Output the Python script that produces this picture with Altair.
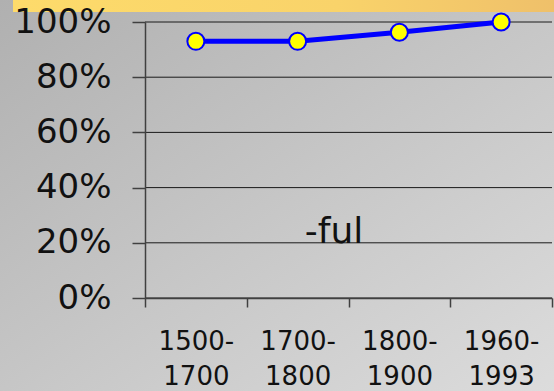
import altair as alt
import pandas as pd

# Share of words in the period, by century span
periods = ["1500-1700", "1700-1800", "1800-1900", "1960-1993"]
shares = [0.93, 0.93, 0.963, 1.0]

grid_values = [0.0, 0.2, 0.4, 0.6, 0.8, 1.0]
annotation = "-ful"
annotation_level = 0.2

W, H = 407, 276
PAD = {"left": 145, "top": 22, "right": 2, "bottom": 93}

series = pd.DataFrame({"period": periods, "share": shares})
grid_df = pd.DataFrame({"share": grid_values})
note_df = pd.DataFrame({"share": [annotation_level], "text": [annotation]})
one = pd.DataFrame({"k": [0]})

x_scale = alt.Scale(domain=periods, paddingInner=0, paddingOuter=0)
y_scale = alt.Scale(domain=[0, 1], nice=False)

# full-canvas grey gradient backdrop
backdrop = alt.Chart(one).mark_rect(
    clip=False,
    fill=alt.Gradient(
        gradient="linear", x1=0, y1=0, x2=1, y2=1,
        stops=[alt.GradientStop(color="#b0b0b0", offset=0),
               alt.GradientStop(color="#dcdcdc", offset=1)],
    ),
).encode(
    x=alt.value(-PAD["left"]), x2=alt.value(W + PAD["right"]),
    y=alt.value(-PAD["top"]), y2=alt.value(H + PAD["bottom"]),
)

# yellow header strip
strip = alt.Chart(one).mark_rect(
    clip=False,
    fill=alt.Gradient(
        gradient="linear", x1=0, y1=0, x2=1, y2=0,
        stops=[alt.GradientStop(color="#fddb6b", offset=0),
               alt.GradientStop(color="#f9d36a", offset=0.6),
               alt.GradientStop(color="#efc06a", offset=1)],
    ),
).encode(
    x=alt.value(-132), x2=alt.value(W + PAD["right"]),
    y=alt.value(-PAD["top"]), y2=alt.value(-10),
)

gridlines = alt.Chart(grid_df).mark_rule(color="#1a1a1a", strokeWidth=1).encode(
    y=alt.Y("share:Q", scale=y_scale),
    x=alt.value(0), x2=alt.value(W),
)

line = alt.Chart(series).mark_line(color="#0000ff", strokeWidth=5).encode(
    x=alt.X("period:N", scale=x_scale, sort=periods,
            axis=alt.Axis(
                title=None, labelAngle=0, grid=False, zindex=1,
                domainColor="#404040", domainWidth=1.5,
                tickColor="#404040", tickWidth=1.5, tickSize=9,
                tickBand="extent",
                labelFont="DejaVu Sans", labelFontSize=26, labelColor="#111111",
                labelLineHeight=35, labelPadding=21,
                labelExpr="datum.label ? [split(datum.label, '-')[0] + '-', split(datum.label, '-')[1]] : ''",
            )),
    y=alt.Y("share:Q", scale=y_scale,
            axis=alt.Axis(
                title=None, values=grid_values, format=".0%", grid=False, zindex=1,
                domainColor="#404040", domainWidth=1.5,
                tickColor="#404040", tickWidth=1.5, tickSize=13,
                labelFont="DejaVu Sans", labelFontSize=34, labelColor="#111111",
                labelPadding=21,
            )),
)

points = alt.Chart(series).mark_point(
    shape="circle", filled=True, fill="#ffff00", stroke="#0000ff",
    strokeWidth=2, size=290, opacity=1,
).encode(
    x=alt.X("period:N", scale=x_scale, sort=periods),
    y=alt.Y("share:Q", scale=y_scale),
)

note = alt.Chart(note_df).mark_text(
    font="DejaVu Sans", fontSize=36, color="#111111",
    align="center", baseline="alphabetic",
).encode(
    x=alt.value(189),
    y=alt.Y("share:Q", scale=y_scale),
    text="text:N",
)

chart = alt.layer(backdrop, strip, gridlines, line, points, note).properties(
    width=W, height=H, padding=PAD,
    autosize=alt.AutoSizeParams(type="none"),
).configure(background="#c6c6c6").configure_view(stroke=None)

chart.save("out.html", embed_options={"renderer": "svg", "actions": False})
